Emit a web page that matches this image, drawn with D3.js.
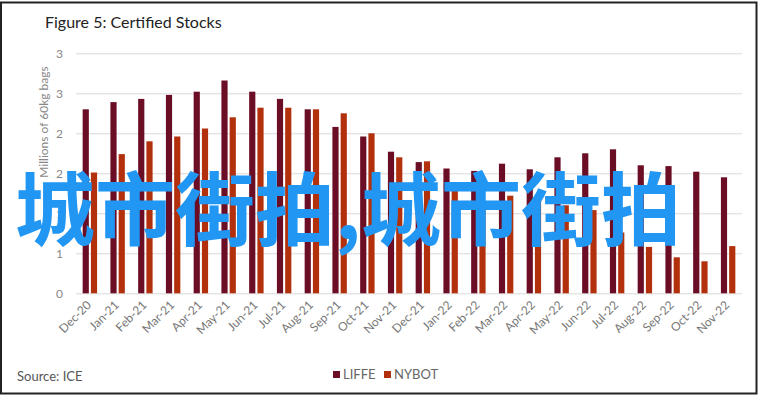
<!DOCTYPE html>
<html>
<head>
<meta charset="utf-8">
<script src="https://cdn.jsdelivr.net/npm/d3@7"></script>
<style>
  body { margin: 0; background: #fff; }
  svg text { font-family: "Lato", "Open Sans", sans-serif; }
</style>
</head>
<body>
<div id="chart"></div>
<script>
// data (millions of 60kg bags)
const months = ["Dec-20", "Jan-21", "Feb-21", "Mar-21", "Apr-21", "May-21", "Jun-21", "Jul-21",
  "Aug-21", "Sep-21", "Oct-21", "Nov-21", "Dec-21", "Jan-22", "Feb-22", "Mar-22", "Apr-22",
  "May-22", "Jun-22", "Jul-22", "Aug-22", "Sep-22", "Oct-22", "Nov-22"];
const liffe = [2.30, 2.39, 2.43, 2.48, 2.52, 2.66, 2.52, 2.43, 2.30, 2.08, 1.96, 1.77,
  1.64, 1.56, 1.53, 1.62, 1.55, 1.70, 1.75, 1.80, 1.60, 1.59, 1.52, 1.45];
const nybot = [1.51, 1.74, 1.90, 1.96, 2.06, 2.20, 2.32, 2.32, 2.30, 2.25, 2.00, 1.70,
  1.65, 1.29, 1.06, 1.22, 1.20, 1.10, 1.04, 0.76, 0.58, 0.45, 0.40, 0.59];
const series = ["LIFFE", "NYBOT"];
const colors = ["#6b0d24", "#b3300c"];
const yTicks = [0, 0.5, 1, 1.5, 2, 2.5, 3];
const yTickLabels = ["0", "1", "1", "2", "2", "3", "3"];

const width = 760;
const height = 399;
const plot = { left: 76, right: 742, top: 53.3, bottom: 293.3 };

const svg = d3.select("#chart").append("svg")
  .attr("width", width)
  .attr("height", height);

// outer frame
svg.append("rect")
  .attr("x", 1).attr("y", 2.5)
  .attr("width", 755.5).attr("height", 391)
  .attr("fill", "#fff")
  .attr("stroke", "#222")
  .attr("stroke-width", 2);

svg.append("text")
  .attr("x", 45).attr("y", 28)
  .attr("font-size", 16)
  .attr("fill", "#222")
  .text("Figure 5: Certified Stocks");

const x0 = d3.scaleBand()
  .domain(months)
  .range([plot.left, plot.right])
  .paddingInner(0.48)
  .paddingOuter(0.24);

const x1 = d3.scaleBand()
  .domain(series)
  .range([0, x0.bandwidth()])
  .paddingInner(0.25);

const y = d3.scaleLinear()
  .domain([0, 3])
  .range([plot.bottom, plot.top]);

// gridlines + y labels
const yAxis = svg.append("g")
  .attr("transform", "translate(" + plot.left + ",0)")
  .call(d3.axisLeft(y)
    .tickValues(yTicks)
    .tickSize(-(plot.right - plot.left))
    .tickPadding(13)
    .tickFormat((d, i) => yTickLabels[i]));
yAxis.select(".domain").remove();
yAxis.selectAll("line").attr("stroke", "#d9d9d9");
yAxis.selectAll("text")
  .attr("fill", "#888")
  .attr("font-size", 12)
  .style("font-family", "Lato, sans-serif");

svg.append("text")
  .attr("transform", "translate(48,122) rotate(-90)")
  .attr("text-anchor", "middle")
  .attr("font-size", 12)
  .attr("fill", "#888")
  .text("Millions of 60kg bags");

// bars
const rows = months.map((m, i) => ({ month: m, values: [liffe[i], nybot[i]] }));

const groups = svg.selectAll(".grp")
  .data(rows)
  .enter()
  .append("g")
  .attr("class", "grp")
  .attr("transform", d => "translate(" + x0(d.month) + ",0)");

groups.selectAll("rect")
  .data(d => d.values.map((v, j) => ({ key: series[j], value: v, color: colors[j] })))
  .enter()
  .append("rect")
  .attr("x", d => x1(d.key))
  .attr("y", d => y(d.value))
  .attr("width", x1.bandwidth())
  .attr("height", d => y(0) - y(d.value))
  .attr("fill", d => d.color);

// x axis labels
const xAxis = svg.append("g")
  .attr("transform", "translate(0," + plot.bottom + ")")
  .call(d3.axisBottom(x0).tickSize(0));
xAxis.select(".domain").remove();
xAxis.selectAll("text")
  .attr("x", 0).attr("y", 0).attr("dy", 0)
  .attr("transform", "translate(2,12.5) rotate(-45)")
  .style("text-anchor", "end")
  .style("font-family", "Lato, sans-serif")
  .attr("font-size", 12)
  .attr("fill", "#777");

// legend
const legend = svg.append("g");
const legendX = [333, 384];
series.forEach((s, i) => {
  legend.append("rect")
    .attr("x", legendX[i]).attr("y", 371)
    .attr("width", 7).attr("height", 7)
    .attr("fill", colors[i]);
  legend.append("text")
    .attr("x", legendX[i] + 10).attr("y", 378.5)
    .attr("font-size", 13)
    .attr("fill", "#666")
    .text(s);
});

svg.append("text")
  .attr("x", 17).attr("y", 381)
  .attr("font-size", 13)
  .attr("fill", "#555")
  .text("Source: ICE");

// watermark overlay
svg.append("text")
  .attr("x", 15).attr("y", 239)
  .attr("font-size", 80)
  .attr("font-weight", "bold")
  .style("font-family", "'Noto Sans CJK SC', sans-serif")
  .attr("fill", "#2196f3")
  .text("城市街拍,城市街拍");
</script>
</body>
</html>
